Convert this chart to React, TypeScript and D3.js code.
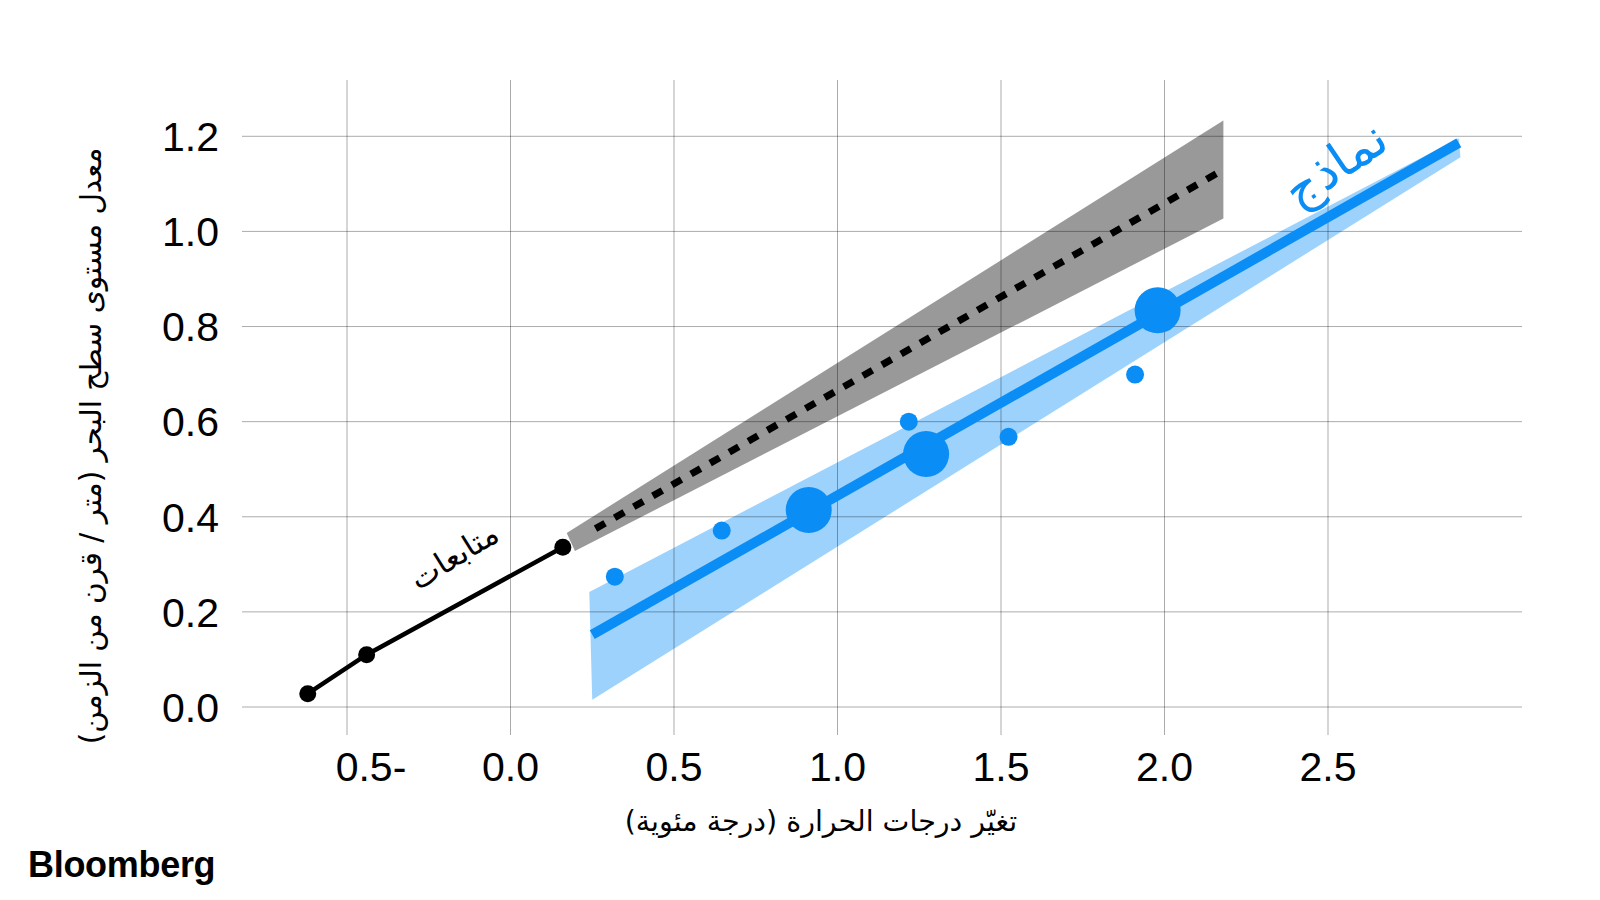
import React from "react";
import * as d3 from "d3";

const xTicks = [-0.5, 0, 0.5, 1, 1.5, 2, 2.5];
const xTickLabels = ["0.5-", "0.0", "0.5", "1.0", "1.5", "2.0", "2.5"];
const yTicks = [0, 0.2, 0.4, 0.6, 0.8, 1.0, 1.2];
const yTickLabels = ["0.0", "0.2", "0.4", "0.6", "0.8", "1.0", "1.2"];

// observations (black)
const observations = [
  { t: -0.62, s: 0.028 },
  { t: -0.44, s: 0.11 },
  { t: 0.16, s: 0.336 },
];
// extrapolated trend (dashed) and its range (grey)
const trendLine = [
  { t: 0.26, s: 0.375 },
  { t: 2.17, s: 1.126 },
];
const trendUpper = [
  { t: 0.172, s: 0.366 },
  { t: 2.18, s: 1.233 },
];
const trendLower = [
  { t: 0.197, s: 0.328 },
  { t: 2.18, s: 1.027 },
];
// models (blue)
const modelLine = [
  { t: 0.25, s: 0.152 },
  { t: 2.9, s: 1.186 },
];
const modelUpper = [
  { t: 0.241, s: 0.242 },
  { t: 2.9, s: 1.196 },
];
const modelLower = [
  { t: 0.25, s: 0.015 },
  { t: 2.905, s: 1.156 },
];
const modelsLarge = [
  { t: 0.912, s: 0.414 },
  { t: 1.271, s: 0.532 },
  { t: 1.979, s: 0.834 },
];
const modelsSmall = [
  { t: 0.319, s: 0.274 },
  { t: 0.646, s: 0.371 },
  { t: 1.218, s: 0.6 },
  { t: 1.523, s: 0.568 },
  { t: 1.91, s: 0.699 },
];

const BLUE = "#0a8df4";
const LIGHT_BLUE = "#9dd2fd";
const GREY = "#999999";
const NUM_FONT = "'Liberation Sans', Arial, sans-serif";
const AR_FONT = "'DejaVu Sans', 'Noto Sans', sans-serif";

export default function App() {
  const x = d3.scaleLinear().domain([-0.5, 2.5]).range([347, 1328]);
  const y = d3.scaleLinear().domain([0, 1.2]).range([707, 136.3]);
  const line = d3
    .line<{ t: number; s: number }>()
    .x((d) => x(d.t))
    .y((d) => y(d.s));
  const poly = (up: { t: number; s: number }[], lo: { t: number; s: number }[]) =>
    line([...up, ...lo.slice().reverse()]) + "Z";

  const gridLeft = 242;
  const gridRight = 1522;
  const gridTop = 80;
  const gridBottom = 735;

  return (
    <svg
      width={1600}
      height={900}
      style={{ position: "absolute", left: 0, top: 0, background: "#fff" }}
    >
      <rect width={1600} height={900} fill="#fff" />
      {/* bands */}
      <path d={poly(trendUpper, trendLower)} fill={GREY} />
      <path d={poly(modelUpper, modelLower)} fill={LIGHT_BLUE} />

      {/* grid */}
      <g stroke="rgba(0,0,0,0.33)" strokeWidth={1}>
        {yTicks.map((t) => (
          <line key={"y" + t} x1={gridLeft} x2={gridRight} y1={y(t)} y2={y(t)} />
        ))}
        {xTicks.map((t) => (
          <line key={"x" + t} x1={x(t)} x2={x(t)} y1={gridTop} y2={gridBottom} />
        ))}
      </g>

      {/* tick labels */}
      <g fontFamily={NUM_FONT} fontSize={41} fill="#000">
        {yTicks.map((t, i) => (
          <text key={"yl" + t} x={219} y={y(t)} dy="0.36em" textAnchor="end">
            {yTickLabels[i]}
          </text>
        ))}
        {xTicks.map((t, i) => (
          <text
            key={"xl" + t}
            x={x(t) + (t < 0 ? 24 : 0)}
            y={781}
            textAnchor="middle"
          >
            {xTickLabels[i]}
          </text>
        ))}
      </g>

      {/* axis titles */}
      <text
        x={821}
        y={831}
        textAnchor="middle"
        fontFamily={AR_FONT}
        fontSize={28.5}
        direction="rtl"
      >
        تغيّر درجات الحرارة (درجة مئوية)
      </text>
      <text
        transform={`translate(101,446) rotate(-90)`}
        textAnchor="middle"
        fontFamily={AR_FONT}
        fontSize={29.5}
        direction="rtl"
      >
        معدل مستوى سطح البحر (متر / قرن من الزمن)
      </text>

      {/* trend dashed */}
      <path
        d={line(trendLine) || ""}
        fill="none"
        stroke="#000"
        strokeWidth={7}
        strokeDasharray="11 11"
      />

      {/* observations */}
      <path d={line(observations) || ""} fill="none" stroke="#000" strokeWidth={4.5} />
      {observations.map((d, i) => (
        <circle key={"o" + i} cx={x(d.t)} cy={y(d.s)} r={8.5} fill="#000" />
      ))}

      {/* models */}
      <path d={line(modelLine) || ""} fill="none" stroke={BLUE} strokeWidth={10} />
      {modelsLarge.map((d, i) => (
        <circle key={"ml" + i} cx={x(d.t)} cy={y(d.s)} r={23} fill={BLUE} />
      ))}
      {modelsSmall.map((d, i) => (
        <circle key={"ms" + i} cx={x(d.t)} cy={y(d.s)} r={9} fill={BLUE} />
      ))}

      {/* labels */}
      <text
        transform="translate(454,556) rotate(-32)"
        textAnchor="middle"
        dy="0.35em"
        fontFamily={AR_FONT}
        fontSize={31}
        fill="#000"
      >
        متابعات
      </text>
      <text
        transform="translate(1335,164) rotate(-34)"
        textAnchor="middle"
        dy="0.35em"
        fontFamily={AR_FONT}
        fontSize={50}
        fill={BLUE}
      >
        نماذج
      </text>

      {/* logo */}
      <text
        x={28}
        y={877}
        fontFamily="'Liberation Sans', Arial, sans-serif"
        fontWeight="bold"
        fontSize={36}
        letterSpacing={-0.3}
        fill="#000"
      >
        Bloomberg
      </text>
    </svg>
  );
}
